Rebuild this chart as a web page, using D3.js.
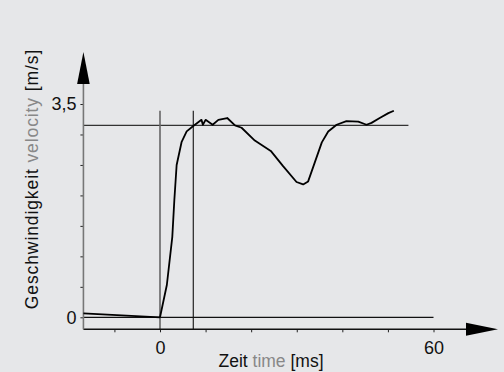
<!DOCTYPE html>
<html>
<head>
<meta charset="utf-8">
<script src="https://cdn.jsdelivr.net/npm/d3@7"></script>
<style>
html,body{margin:0;padding:0;background:#e6e7e9;}
svg{display:block;font-family:"Liberation Sans",Arial,sans-serif;}
</style>
</head>
<body>
<svg id="chart" width="504" height="372"></svg>
<script>
// time [ms]
const times = [-16.8, 0, 1.5, 2.7, 3.15, 3.65, 4.75, 5.85, 7.3, 9.1, 9.4, 10.0, 11.55, 12.8, 14.75, 16.45, 17.9, 20.8, 24.3, 27.0, 29.95, 31.4, 32.5, 34.0, 35.5, 36.9, 38.75, 40.9, 43.5, 45.3, 46.4, 48.2, 50.1, 51.3];
// velocity [m/s]
const velocity = [0.066, 0, 0.53, 1.32, 1.93, 2.5, 2.88, 3.05, 3.14, 3.24, 3.16, 3.24, 3.16, 3.24, 3.27, 3.15, 3.11, 2.9, 2.73, 2.48, 2.22, 2.18, 2.23, 2.55, 2.87, 3.05, 3.16, 3.22, 3.21, 3.16, 3.19, 3.27, 3.35, 3.39];
const xTicks = [-10, 0, 10, 20, 30, 40, 50, 60];
const xTickLabels = {"0": "0", "60": "60"};
const yTicks = [0, 0.5, 1, 1.5, 2, 2.5, 3, 3.5];
const yTickLabels = {"0": "0", "3.5": "3,5"};
const refLevel = 3.15;     // horizontal reference line
const refEnd = 54.5;       // ms
const markTimes = [0, 7.3];
const markTop = 3.39;
const xMin = -16.8, xAxisV = -0.197;

const svg = d3.select("#chart");
const x = d3.scaleLinear().domain([0, 60]).range([160, 433.5]);
const y = d3.scaleLinear().domain([0, 3.5]).range([317.3, 104]);

const x0 = x(xMin), yAx = y(xAxisV);

// reference lines
svg.append("line").attr("x1", x0).attr("x2", x(60)).attr("y1", y(0)).attr("y2", y(0))
  .attr("stroke", "#111").attr("stroke-width", 1.2);
svg.append("line").attr("x1", x0).attr("x2", x(refEnd)).attr("y1", y(refLevel)).attr("y2", y(refLevel))
  .attr("stroke", "#333").attr("stroke-width", 1.2);
svg.append("line").attr("x1", x(markTimes[0])).attr("x2", x(markTimes[0])).attr("y1", y(markTop)).attr("y2", yAx)
  .attr("stroke", "#666").attr("stroke-width", 1.6);
svg.append("line").attr("x1", x(markTimes[1])).attr("x2", x(markTimes[1])).attr("y1", y(markTop)).attr("y2", yAx)
  .attr("stroke", "#111").attr("stroke-width", 1.1);

// axes
const yAxis = d3.axisLeft(y).tickValues(yTicks).tickSize(3).tickSizeOuter(0)
  .tickFormat(d => yTickLabels[String(d)] || "");
const gy = svg.append("g").attr("transform", `translate(${x0},0)`).call(yAxis);
gy.select(".domain").remove();
gy.selectAll("line").attr("stroke", "#222");
gy.selectAll("text").attr("font-size", 18).attr("fill", "#111").attr("x", -7)
  .attr("font-family", "Liberation Sans, Arial, sans-serif");

const xAxis = d3.axisBottom(x).tickValues(xTicks).tickSize(3).tickSizeOuter(0)
  .tickFormat(d => xTickLabels[String(d)] || "");
const gx = svg.append("g").attr("transform", `translate(0,${yAx})`).call(xAxis);
gx.select(".domain").remove();
gx.selectAll("line").attr("stroke", "#222");
gx.selectAll("text").attr("font-size", 18).attr("fill", "#111").attr("y", 12)
  .attr("font-family", "Liberation Sans, Arial, sans-serif");

// axis lines with arrows
svg.append("line").attr("x1", x0).attr("x2", 470).attr("y1", yAx).attr("y2", yAx)
  .attr("stroke", "#111").attr("stroke-width", 1.4);
svg.append("path").attr("d", `M466,${yAx - 6.5} L498,${yAx} L466,${yAx + 6.5} Z`).attr("fill", "#000");
svg.append("line").attr("x1", x0).attr("x2", x0).attr("y1", yAx).attr("y2", 80)
  .attr("stroke", "#777").attr("stroke-width", 1.6);
svg.append("path").attr("d", `M${x0 - 6.3},84 L${x0},52 L${x0 + 6.3},84 Z`).attr("fill", "#000");

// curve
const data = times.map((t, i) => ({t, v: velocity[i]}));
svg.append("path").datum(data)
  .attr("d", d3.line().x(d => x(d.t)).y(d => y(d.v)))
  .attr("fill", "none").attr("stroke", "#000").attr("stroke-width", 1.8)
  .attr("stroke-linejoin", "round");

// titles
const xt = svg.append("text").attr("x", 271).attr("y", 367).attr("text-anchor", "middle")
  .attr("font-size", 17.5).attr("fill", "#111");
xt.append("tspan").text("Zeit ");
xt.append("tspan").attr("fill", "#888").text("time");
xt.append("tspan").text(" [ms]");

const yt = svg.append("text").attr("transform", "translate(38,179) rotate(-90)").attr("text-anchor", "middle")
  .attr("font-size", 17.5).attr("letter-spacing", 0.9).attr("fill", "#111");
yt.append("tspan").text("Geschwindigkeit ");
yt.append("tspan").attr("fill", "#888").text("velocity");
yt.append("tspan").text(" [m/s]");
</script>
</body>
</html>
